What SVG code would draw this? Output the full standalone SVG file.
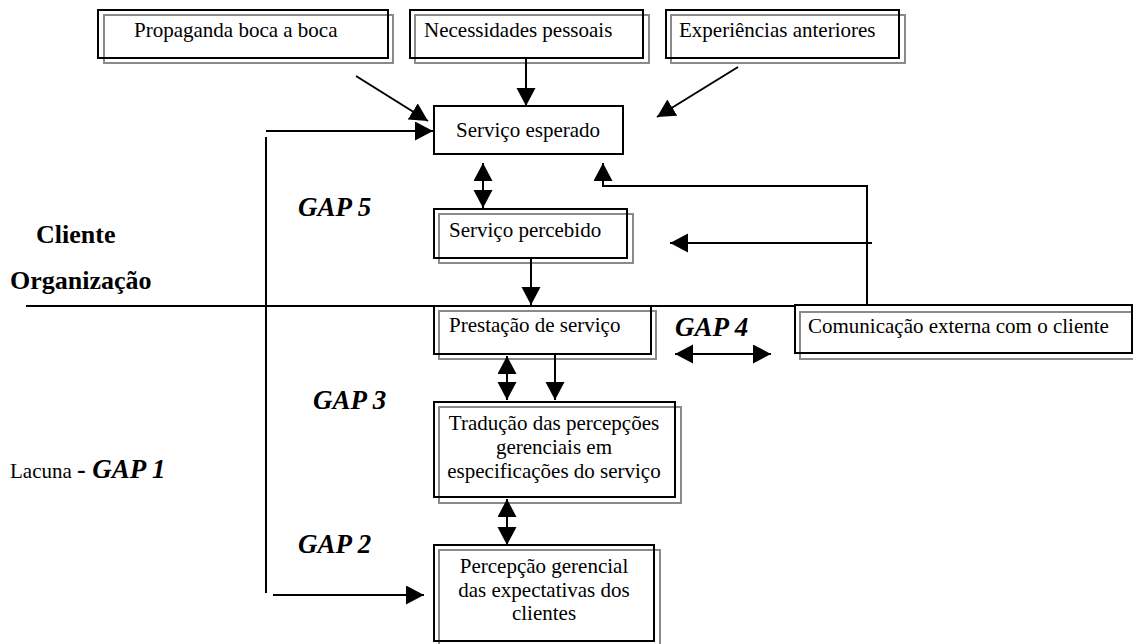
<svg xmlns="http://www.w3.org/2000/svg" width="1133" height="644" viewBox="0 0 1133 644">
<style>
.bk{fill:none;stroke:#000;stroke-width:2}
.gr{fill:none;stroke:#8a8a8a;stroke-width:2}
.t{font-family:"Liberation Serif","Times New Roman",serif;font-size:21px;fill:#000}
.c{text-anchor:middle}
.g{font-family:"Liberation Serif","Times New Roman",serif;font-size:27px;font-weight:bold;font-style:italic;fill:#000}
.b{font-family:"Liberation Serif","Times New Roman",serif;font-size:26px;font-weight:bold;fill:#000}
.ln{fill:none;stroke:#000;stroke-width:2}
.a{marker-end:url(#ah)}
.d{marker-start:url(#ah);marker-end:url(#ah)}
</style>
<defs>
<marker id="ah" markerUnits="userSpaceOnUse" markerWidth="20" markerHeight="20" refX="18" refY="9.5" orient="auto-start-reverse">
<path d="M0,0 L18,9.5 L0,19 z" fill="#000"/>
</marker>
</defs>
<rect width="1133" height="644" fill="#fff"/>
<g id="propaganda"><rect class="gr" x="104" y="15" width="289" height="48"/><rect class="bk" x="98" y="10" width="290" height="48"/><text class="t" x="134" y="37">Propaganda boca a boca</text></g>
<g id="necessidades"><rect class="gr" x="415" y="15" width="234" height="48"/><rect class="bk" x="410" y="10" width="233" height="48"/><text class="t" x="424" y="37">Necessidades pessoais</text></g>
<g id="experiencias"><rect class="gr" x="671" y="15" width="234" height="48"/><rect class="bk" x="666" y="10" width="233" height="48"/><text class="t" x="679" y="37">Experiências anteriores</text></g>
<g id="esperado"><rect class="bk" x="434" y="106" width="189" height="48"/><text class="t c" x="528" y="137">Serviço esperado</text></g>
<g id="percebido"><rect class="gr" x="439" y="214" width="194" height="49"/><rect class="bk" x="434" y="209" width="193" height="49"/><text class="t" x="449" y="237">Serviço percebido</text></g>
<g id="prestacao"><rect class="gr" x="439" y="311" width="217" height="48"/><rect class="bk" x="434" y="306" width="217" height="48"/><text class="t" x="449" y="332">Prestação de serviço</text></g>
<g id="comunicacao"><rect class="gr" x="800" y="312" width="340" height="47"/><rect class="bk" x="795" y="305" width="337" height="48"/><text class="t" x="808" y="333">Comunicação externa com o cliente</text></g>
<g id="traducao"><rect class="gr" x="439" y="407" width="242" height="96"/><rect class="bk" x="434" y="402" width="241" height="95"/><text class="t c" x="554" y="430">Tradução das percepções</text><text class="t c" x="554" y="454">gerenciais em</text><text class="t c" x="554" y="478">especificações do serviço</text></g>
<g id="percepcao"><rect class="gr" x="439" y="550" width="221" height="100"/><rect class="bk" x="434" y="545" width="220" height="96"/><text class="t c" x="544" y="573">Percepção gerencial</text><text class="t c" x="544" y="597">das expectativas dos</text><text class="t c" x="544" y="620">clientes</text></g>
<g id="labels">
<text class="b" x="36" y="243">Cliente</text>
<text class="b" x="10" y="289">Organização</text>
<text class="g" x="298" y="216">GAP 5</text>
<text class="g" x="675" y="336">GAP 4</text>
<text class="g" x="313" y="409">GAP 3</text>
<text class="g" x="298" y="553">GAP 2</text>
<text x="10" y="478"><tspan class="t">Lacuna </tspan><tspan class="b" font-size="21">- </tspan><tspan class="g">GAP 1</tspan></text>
</g>
<g id="connectors">
<line class="ln a" x1="356" y1="76" x2="428" y2="121"/>
<line class="ln a" x1="526" y1="58" x2="526" y2="106"/>
<line class="ln a" x1="738" y1="67" x2="657" y2="117"/>
<line class="ln a" x1="266" y1="131" x2="433" y2="131"/>
<line class="ln" x1="266" y1="137" x2="266" y2="593"/>
<line class="ln a" x1="273" y1="595" x2="424" y2="595"/>
<line class="ln d" x1="483" y1="163" x2="483" y2="208"/>
<polyline class="ln a" points="867,305 867,186 603,186 603,163"/>
<line class="ln a" x1="872" y1="243" x2="670" y2="243"/>
<line class="ln a" x1="531" y1="258" x2="531" y2="305"/>
<line class="ln" x1="26" y1="306" x2="795" y2="306"/>
<line class="ln d" x1="675" y1="354" x2="771" y2="354"/>
<line class="ln d" x1="507" y1="356" x2="507" y2="400"/>
<line class="ln a" x1="555" y1="354" x2="555" y2="400"/>
<line class="ln d" x1="507" y1="499" x2="507" y2="545"/>
</g>
</svg>
